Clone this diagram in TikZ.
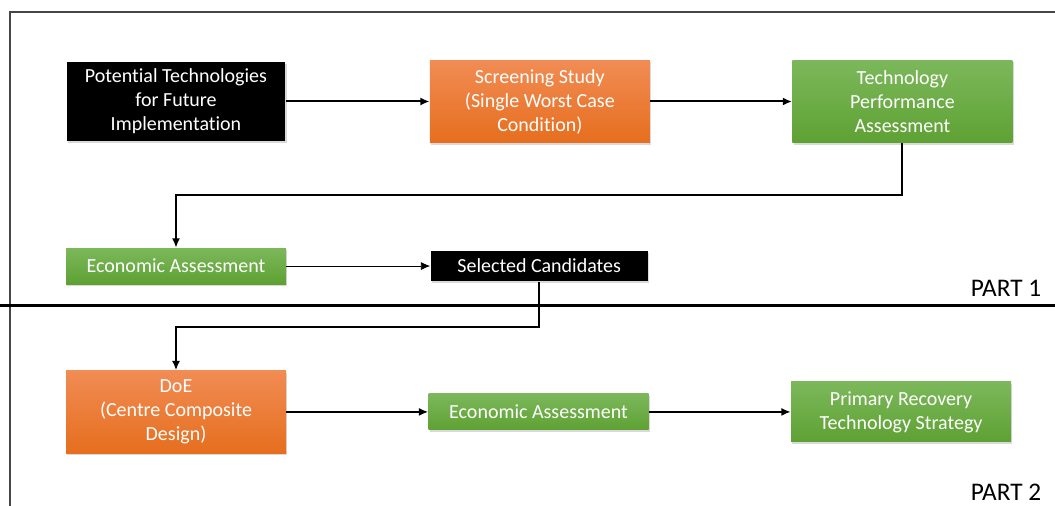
\documentclass[tikz,border=0pt]{standalone}
\usepackage{fontspec}
\setmainfont{Carlito}[Ligatures={NoCommon}, Contextuals={NoAlternate}]
\usetikzlibrary{arrows.meta,positioning,shadows}
\definecolor{orangeTop}{RGB}{241,140,84}
\definecolor{orangeBottom}{RGB}{230,110,30}
\definecolor{greenTop}{RGB}{124,184,91}
\definecolor{greenBottom}{RGB}{94,161,51}
\definecolor{frameColor}{RGB}{70,70,70}
\tikzset{stage/.style={align=center, text=white, minimum width=165pt, minimum height=62pt, inner sep=2pt, font=\fontsize{15}{18}\selectfont, drop shadow={opacity=0.3, shadow xshift=1pt, shadow yshift=-1.5pt}}}
\tikzset{orangebox/.style={stage, top color=orangeTop, bottom color=orangeBottom}}
\tikzset{greenbox/.style={stage, top color=greenTop, bottom color=greenBottom}}
\tikzset{blackbox/.style={stage, fill=black, minimum width=164pt, drop shadow={opacity=0}}}
\tikzset{partlabel/.style={font=\fontsize{19}{22}\selectfont, inner sep=0pt}}
\tikzstyle{arrow} = [-{Latex[length=7pt,width=6pt]}, line width=1.5pt]

\begin{document}
\begin{tikzpicture}[x=0.75pt, y=-0.75pt]
	\useasboundingbox (0,0) rectangle (1055,506);
	% Frame
	\draw [frameColor, line width=1.5pt] (1055,12) -- (10,12) -- (10,506);
	\draw [line width=1.6pt] (0,305.5) -- (1055,305.5);

	% Nodes
	\node (potential) [blackbox, minimum height=59pt] at (176,101.5) {Potential Technologies\\for Future\\Implementation};
	\node (screening) [orangebox, right=108pt of potential] {Screening Study\\(Single Worst Case\\Condition)};
	\node (performance) [greenbox, right=106.5pt of screening] {Technology\\Performance\\Assessment};

	\node (economicA) [greenbox, minimum height=27pt, below=80pt of potential] {Economic Assessment};
	\node (selected) [blackbox, minimum width=163pt, minimum height=23pt, right=108pt of economicA] {Selected Candidates};

	\node (doe) [orangebox, below=64.5pt of economicA] {DoE\\(Centre Composite\\Design)};
	\node (economicB) [greenbox, minimum height=27pt, right=106.5pt of doe] {Economic Assessment};
	\node (primary) [greenbox, minimum height=45pt, right=106.5pt of economicB] {Primary Recovery\\Technology Strategy};

	\node (part1) [partlabel] at (1006,288) {PART 1};
	\node (part2) [partlabel] at (1006,492.5) {PART 2};

	% Connectors
	\draw [arrow] (potential) -- (screening);
	\draw [arrow] (screening) -- (performance);
	\draw [arrow] (performance.south) -- ++(0,52) -| (economicA.north);
	\draw [arrow, line width=0.6pt, -{Latex[length=7pt,width=6pt]}] (economicA) -- (selected);
	\draw [arrow] (selected.south) -- ++(0,45) -| (doe.north);
	\draw [arrow] (doe) -- (economicB);
	\draw [arrow] (economicB) -- (primary);
\end{tikzpicture}
\end{document}
